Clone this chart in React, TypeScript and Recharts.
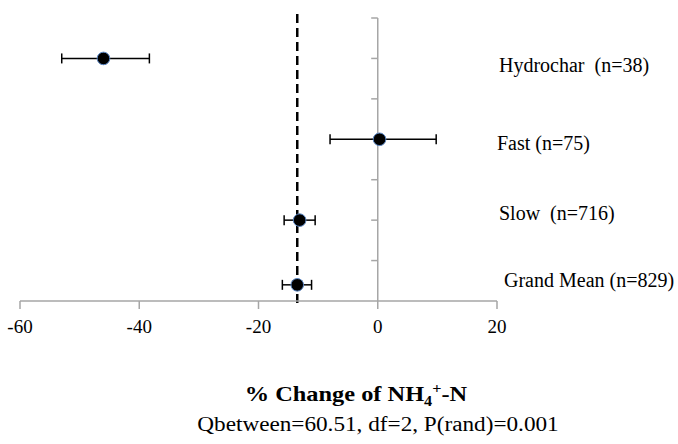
import React from 'react';
import {
  ScatterChart,
  Scatter,
  XAxis,
  YAxis,
  ErrorBar,
  ReferenceLine,
} from 'recharts';

// categories, listed top to bottom
const categories = ['Hydrochar  (n=38)', 'Fast (n=75)', 'Slow  (n=716)', 'Grand Mean (n=829)'];
// row position of each category on the vertical scale
const rows = [6, 4, 2, 0.4];
// where each category's label sits on the same scale
const labelRows = [5.84, 3.91, 2.18, 0.52];
// effect size (% change) and 95% CI
const means = [-46.0, 0.3, -13.1, -13.5];
const lows = [-53.0, -8.0, -15.7, -16.0];
const highs = [-38.3, 9.8, -10.5, -11.1];

const xTicks = [-60, -40, -20, 0, 20];
const rowTicks = [1, 2, 3, 4, 5, 6, 7];
const grandMean = -13.5;

const data = categories.map((name, i) => ({
  name,
  x: means[i],
  y: rows[i],
  err: [means[i] - lows[i], highs[i] - means[i]],
}));

const serif = '"Liberation Serif", "Times New Roman", serif';
const gray = '#a6a6a6';

const Dot = (props: any) => (
  <circle cx={props.cx} cy={props.cy} r={6.3} fill="#000" stroke="#5b87c5" strokeWidth={1} />
);

const RowLabel = (props: any) => {
  const idx = labelRows.indexOf(props.payload.value);
  return (
    <text
      x={props.x + (idx === 3 ? 7 : idx === 1 ? 0 : 2)}
      y={props.y}
      dominantBaseline="central"
      fontFamily={serif}
      fontSize={20}
      fill="#000"
      style={{ whiteSpace: 'pre' }}
    >
      {categories[idx]}
    </text>
  );
};

const XTick = (props: any) => (
  <text
    x={props.x}
    y={props.y}
    dy={13.5}
    textAnchor="middle"
    fontFamily={serif}
    fontSize={19}
    fill="#000"
  >
    {props.payload.value}
  </text>
);

export default function App() {
  return (
    <div
      style={{
        position: 'absolute',
        left: 0,
        top: 0,
        width: 678,
        height: 444,
        background: '#fff',
        fontFamily: serif,
      }}
    >
      <ScatterChart width={678} height={444} margin={{ top: 18, right: 0, bottom: 113, left: 20 }}>
        <XAxis
          type="number"
          dataKey="x"
          domain={[-60, 20]}
          ticks={xTicks}
          height={30}
          axisLine={{ stroke: gray, strokeWidth: 1.5 }}
          tickLine={{ stroke: gray, strokeWidth: 1.5 }}
          tickSize={8}
          tickMargin={10}
          tick={<XTick />}
        />
        <YAxis
          type="number"
          dataKey="y"
          orientation="right"
          domain={[0, 7]}
          ticks={labelRows}
          width={181}
          axisLine={false}
          tickLine={false}
          tickSize={0}
          tickMargin={0}
          tick={<RowLabel />}
        />
        <ReferenceLine x={0} stroke={gray} strokeWidth={1.5} />
        {rowTicks.map((t) => (
          <ReferenceLine
            key={t}
            segment={[{ x: -1.1, y: t }, { x: 0, y: t }]}
            stroke={gray}
            strokeWidth={1.5}
          />
        ))}
        <ReferenceLine
          segment={[{ x: grandMean, y: -0.05 }, { x: grandMean, y: 7.12 }]}
          stroke="#000"
          strokeWidth={2.5}
          strokeDasharray="9 5"
          ifOverflow="visible"
        />
        <Scatter data={data} shape={<Dot />} isAnimationActive={false}>
          <ErrorBar dataKey="err" direction="x" width={5} stroke="#000" strokeWidth={1.5} />
        </Scatter>
      </ScatterChart>
      <div
        style={{
          position: 'absolute',
          left: 156,
          width: 400,
          top: 381,
          textAlign: 'center',
          fontWeight: 'bold',
          fontSize: 21,
          color: '#000',
          transform: 'scaleX(1.16)',
        }}
      >
        % Change of NH<sub style={{ fontSize: 14 }}>4</sub>
        <sup style={{ fontSize: 14 }}>+</sup>-N
      </div>
      <div
        style={{
          position: 'absolute',
          left: 178,
          width: 400,
          top: 413,
          textAlign: 'center',
          fontSize: 20,
          color: '#000',
          transform: 'scaleX(1.16)',
        }}
      >
        Qbetween=60.51, df=2, P(rand)=0.001
      </div>
    </div>
  );
}
